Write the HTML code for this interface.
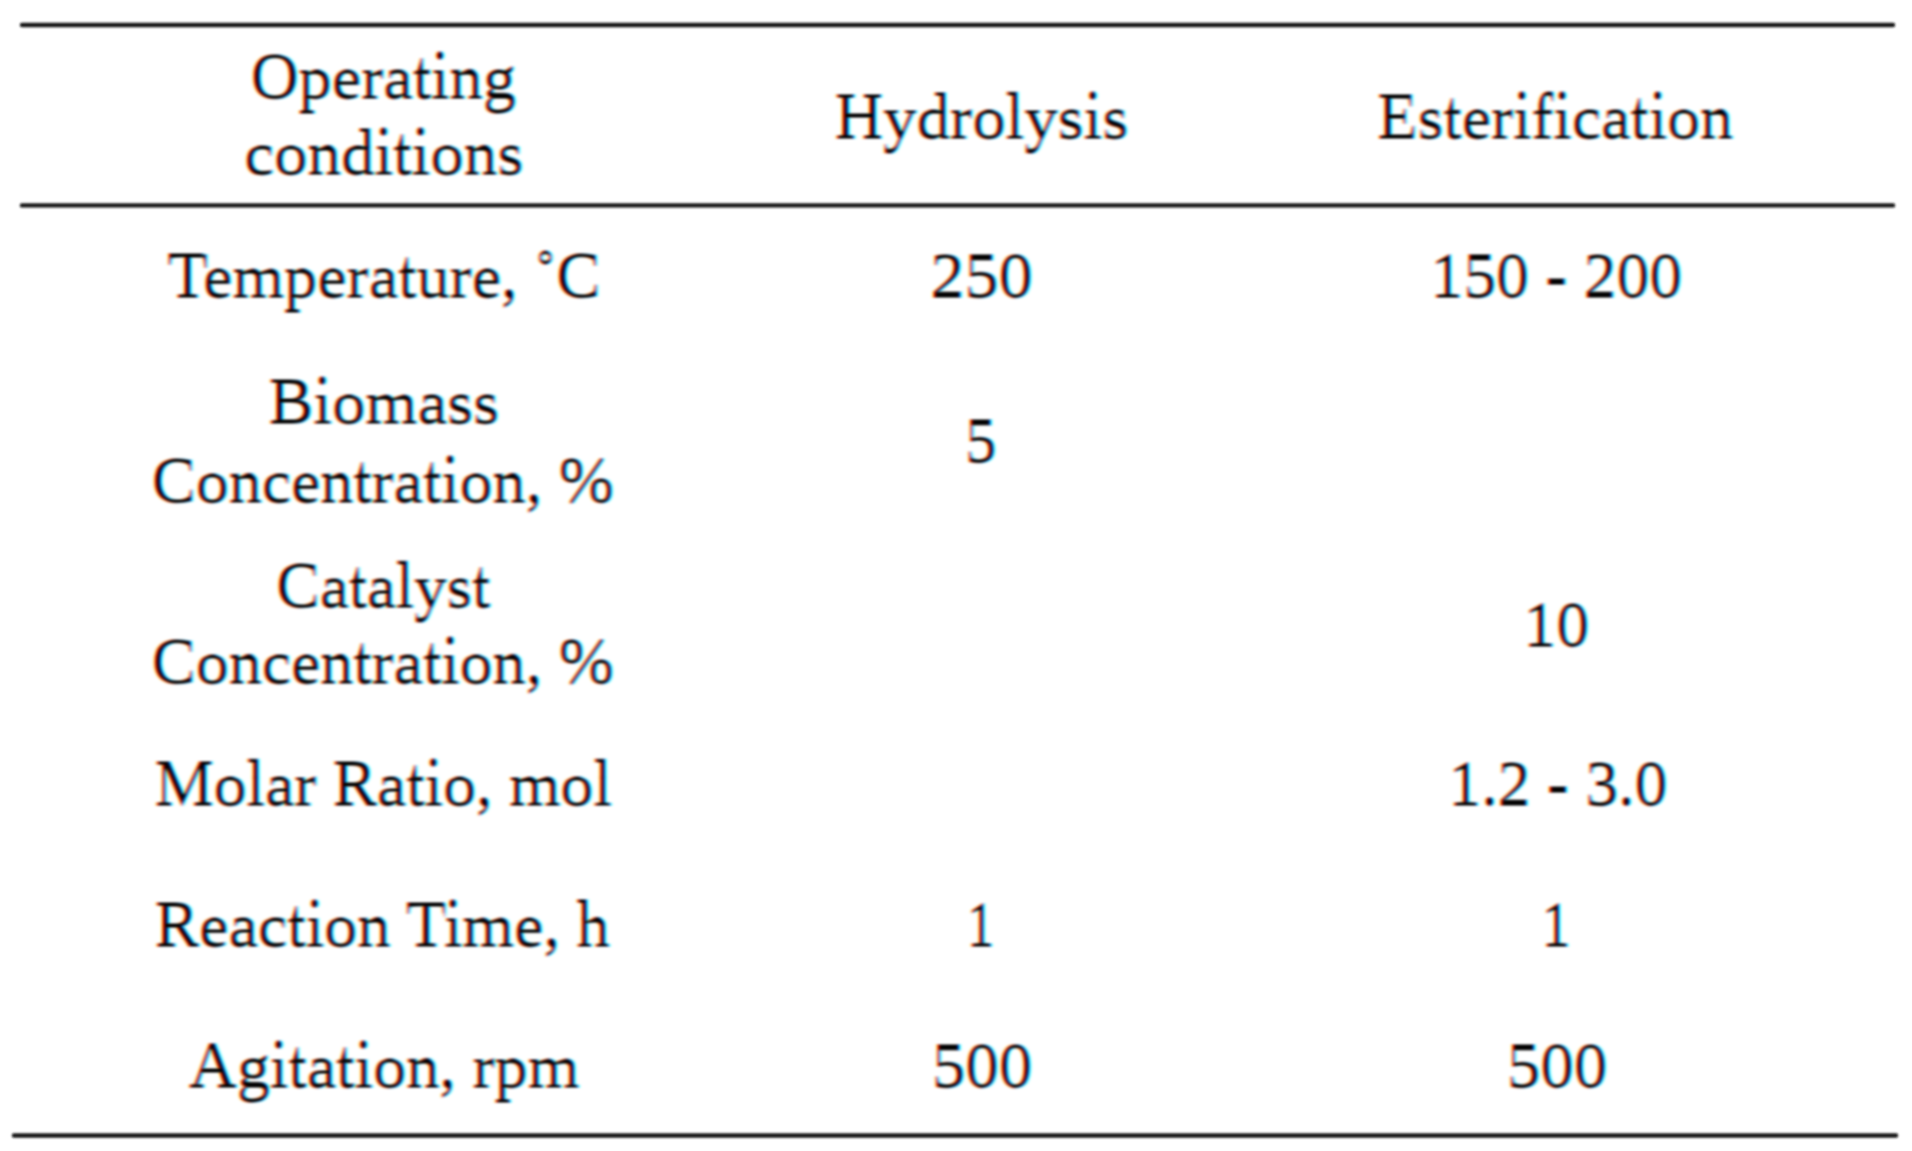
<!DOCTYPE html>
<html lang="en"><head><meta charset="utf-8"><title>Operating conditions: Hydrolysis and Esterification</title>
<style>
html,body{margin:0;padding:0;background:#fff;width:1912px;height:1151px;overflow:hidden}
svg{display:block}
text{font-family:"Liberation Serif","Times New Roman",serif;font-size:66px;fill:#000;white-space:pre}
</style></head><body>
<svg width="1912" height="1151" viewBox="0 0 1912 1151" role="img" aria-label="Table of operating conditions for hydrolysis and esterification">
<defs>
<filter id="ct" filterUnits="userSpaceOnUse" x="-20" y="-20" width="1952" height="1191" color-interpolation-filters="sRGB">
<feMorphology in="SourceGraphic" operator="erode" radius="1 0" result="er"/>
<feMorphology in="SourceGraphic" operator="dilate" radius="0 1" result="di"/>
<feComposite in="er" in2="di" operator="arithmetic" k1="0" k2="0.5" k3="0.5" k4="0" result="m1"/>
<feComposite in="m1" in2="SourceGraphic" operator="arithmetic" k1="0" k2="1" k3="0.000" k4="0" result="mx"/>
<feFlood flood-color="#ffffff" result="bg"/>
<feComposite in="mx" in2="bg" operator="over" result="src"/>
<feGaussianBlur in="src" stdDeviation="1.7 1.0" result="b"/>
<feOffset in="b" dx="1.5" dy="0" result="ro"/>
<feOffset in="b" dx="-1.5" dy="0" result="bo"/>
<feColorMatrix in="ro" type="matrix" values="1 0 0 0 0 0 0 0 0 0 0 0 0 0 0 0 0 0 0 1" result="R"/>
<feColorMatrix in="b" type="matrix" values="0 0 0 0 0 0 1 0 0 0 0 0 0 0 0 0 0 0 0 1" result="G"/>
<feColorMatrix in="bo" type="matrix" values="0 0 0 0 0 0 0 0 0 0 0 0 1 0 0 0 0 0 0 1" result="B"/>
<feComposite in="R" in2="G" operator="arithmetic" k1="0" k2="1" k3="1" k4="0" result="RG"/>
<feComposite in="RG" in2="B" operator="arithmetic" k1="0" k2="1" k3="1" k4="0"/>
</filter>
<filter id="lb" filterUnits="userSpaceOnUse" x="0" y="0" width="1912" height="1151"><feGaussianBlur stdDeviation="0.9"/></filter>
<clipPath id="k1" clipPathUnits="userSpaceOnUse"><rect x="-20.00" y="8.00" width="67.66" height="130.00"/></clipPath>
<clipPath id="k2" clipPathUnits="userSpaceOnUse"><rect x="47.66" y="97.50" width="236.25" height="40.50"/></clipPath>
<clipPath id="k3" clipPathUnits="userSpaceOnUse"><rect x="47.66" y="70.24" width="236.25" height="28.26"/></clipPath>
<clipPath id="k4" clipPathUnits="userSpaceOnUse"><rect x="47.66" y="8.00" width="113.56" height="63.24"/><rect x="179.56" y="8.00" width="3.72" height="63.24"/><rect x="193.28" y="8.00" width="90.63" height="63.24"/></clipPath>
<clipPath id="k5" clipPathUnits="userSpaceOnUse"><rect x="161.22" y="8.00" width="18.34" height="63.24"/></clipPath>
<clipPath id="k6" clipPathUnits="userSpaceOnUse"><rect x="183.28" y="8.00" width="9.99" height="56.00"/></clipPath>
<clipPath id="k7" clipPathUnits="userSpaceOnUse"><rect x="-20.00" y="173.50" width="315.00" height="40.50"/></clipPath>
<clipPath id="k8" clipPathUnits="userSpaceOnUse"><rect x="-20.00" y="146.24" width="315.00" height="28.26"/></clipPath>
<clipPath id="k9" clipPathUnits="userSpaceOnUse"><rect x="-20.00" y="84.00" width="152.00" height="63.24"/><rect x="142.00" y="84.00" width="4.63" height="63.24"/><rect x="164.95" y="84.00" width="3.72" height="63.24"/><rect x="178.67" y="84.00" width="116.33" height="63.24"/></clipPath>
<clipPath id="k10" clipPathUnits="userSpaceOnUse"><rect x="146.62" y="84.00" width="18.33" height="63.24"/></clipPath>
<clipPath id="k11" clipPathUnits="userSpaceOnUse"><rect x="132.00" y="84.00" width="9.99" height="56.00"/><rect x="168.67" y="84.00" width="9.99" height="56.00"/></clipPath>
<clipPath id="k12" clipPathUnits="userSpaceOnUse"><rect x="-20.00" y="48.00" width="67.66" height="130.00"/></clipPath>
<clipPath id="k13" clipPathUnits="userSpaceOnUse"><rect x="47.66" y="137.50" width="262.03" height="40.50"/></clipPath>
<clipPath id="k14" clipPathUnits="userSpaceOnUse"><rect x="47.66" y="110.24" width="262.03" height="28.26"/></clipPath>
<clipPath id="k15" clipPathUnits="userSpaceOnUse"><rect x="47.66" y="48.00" width="201.72" height="63.24"/><rect x="259.37" y="48.00" width="50.32" height="63.24"/></clipPath>
<clipPath id="k16" clipPathUnits="userSpaceOnUse"><rect x="249.38" y="48.00" width="9.99" height="56.00"/></clipPath>
<clipPath id="k17" clipPathUnits="userSpaceOnUse"><rect x="-20.00" y="48.00" width="60.31" height="130.00"/></clipPath>
<clipPath id="k18" clipPathUnits="userSpaceOnUse"><rect x="40.31" y="137.50" width="335.22" height="40.50"/></clipPath>
<clipPath id="k19" clipPathUnits="userSpaceOnUse"><rect x="40.31" y="110.24" width="335.22" height="28.26"/></clipPath>
<clipPath id="k20" clipPathUnits="userSpaceOnUse"><rect x="40.31" y="48.00" width="25.69" height="63.24"/><rect x="84.33" y="48.00" width="55.00" height="63.24"/><rect x="149.32" y="48.00" width="30.32" height="63.24"/><rect x="189.64" y="48.00" width="63.21" height="63.24"/><rect x="271.17" y="48.00" width="3.72" height="63.24"/><rect x="284.89" y="48.00" width="90.65" height="63.24"/></clipPath>
<clipPath id="k21" clipPathUnits="userSpaceOnUse"><rect x="66.00" y="48.00" width="18.33" height="63.24"/><rect x="252.84" y="48.00" width="18.33" height="63.24"/></clipPath>
<clipPath id="k22" clipPathUnits="userSpaceOnUse"><rect x="139.33" y="48.00" width="9.99" height="56.00"/><rect x="179.64" y="48.00" width="9.99" height="56.00"/><rect x="274.89" y="48.00" width="9.99" height="56.00"/></clipPath>
<clipPath id="k23" clipPathUnits="userSpaceOnUse"><rect x="-20.00" y="207.00" width="55.70" height="130.00"/><rect x="332.50" y="207.00" width="33.00" height="130.00"/><rect x="387.48" y="207.00" width="64.03" height="130.00"/></clipPath>
<clipPath id="k24" clipPathUnits="userSpaceOnUse"><rect x="349.00" y="207.00" width="38.48" height="130.00"/></clipPath>
<clipPath id="k25" clipPathUnits="userSpaceOnUse"><rect x="35.70" y="296.50" width="296.80" height="40.50"/></clipPath>
<clipPath id="k26" clipPathUnits="userSpaceOnUse"><rect x="35.70" y="269.24" width="296.80" height="28.26"/></clipPath>
<clipPath id="k27" clipPathUnits="userSpaceOnUse"><rect x="35.70" y="207.00" width="194.19" height="63.24"/><rect x="248.23" y="207.00" width="84.27" height="63.24"/></clipPath>
<clipPath id="k28" clipPathUnits="userSpaceOnUse"><rect x="229.89" y="207.00" width="18.34" height="63.24"/></clipPath>
<clipPath id="k29" clipPathUnits="userSpaceOnUse"><rect x="-20.00" y="207.00" width="139.00" height="130.00"/></clipPath>
<clipPath id="k30" clipPathUnits="userSpaceOnUse"><rect x="99.00" y="207.00" width="54.97" height="130.00"/></clipPath>
<clipPath id="k31" clipPathUnits="userSpaceOnUse"><rect x="-20.00" y="207.00" width="135.50" height="130.00"/><rect x="137.47" y="207.00" width="135.52" height="130.00"/></clipPath>
<clipPath id="k32" clipPathUnits="userSpaceOnUse"><rect x="-20.00" y="333.00" width="64.02" height="130.00"/></clipPath>
<clipPath id="k33" clipPathUnits="userSpaceOnUse"><rect x="44.02" y="422.50" width="203.34" height="40.50"/></clipPath>
<clipPath id="k34" clipPathUnits="userSpaceOnUse"><rect x="44.02" y="395.24" width="203.34" height="28.26"/></clipPath>
<clipPath id="k35" clipPathUnits="userSpaceOnUse"><rect x="44.02" y="333.00" width="3.72" height="63.24"/><rect x="57.73" y="333.00" width="189.63" height="63.24"/></clipPath>
<clipPath id="k36" clipPathUnits="userSpaceOnUse"><rect x="47.74" y="333.00" width="9.99" height="56.00"/></clipPath>
<clipPath id="k37" clipPathUnits="userSpaceOnUse"><rect x="-20.00" y="412.00" width="64.02" height="130.00"/><rect x="373.89" y="412.00" width="107.98" height="130.00"/></clipPath>
<clipPath id="k38" clipPathUnits="userSpaceOnUse"><rect x="44.02" y="501.50" width="329.88" height="40.50"/></clipPath>
<clipPath id="k39" clipPathUnits="userSpaceOnUse"><rect x="44.02" y="474.24" width="329.88" height="28.26"/></clipPath>
<clipPath id="k40" clipPathUnits="userSpaceOnUse"><rect x="44.02" y="412.00" width="157.59" height="63.24"/><rect x="219.94" y="412.00" width="51.28" height="63.24"/><rect x="289.55" y="412.00" width="3.72" height="63.24"/><rect x="303.26" y="412.00" width="70.63" height="63.24"/></clipPath>
<clipPath id="k41" clipPathUnits="userSpaceOnUse"><rect x="201.61" y="412.00" width="18.33" height="63.24"/><rect x="271.22" y="412.00" width="18.33" height="63.24"/></clipPath>
<clipPath id="k42" clipPathUnits="userSpaceOnUse"><rect x="293.27" y="412.00" width="9.99" height="56.00"/></clipPath>
<clipPath id="k43" clipPathUnits="userSpaceOnUse"><rect x="-20.00" y="372.00" width="73.00" height="130.00"/></clipPath>
<clipPath id="k44" clipPathUnits="userSpaceOnUse"><rect x="-20.00" y="517.00" width="64.02" height="130.00"/></clipPath>
<clipPath id="k45" clipPathUnits="userSpaceOnUse"><rect x="44.02" y="606.50" width="192.30" height="40.50"/></clipPath>
<clipPath id="k46" clipPathUnits="userSpaceOnUse"><rect x="44.02" y="579.24" width="192.30" height="28.26"/></clipPath>
<clipPath id="k47" clipPathUnits="userSpaceOnUse"><rect x="44.02" y="517.00" width="29.30" height="63.24"/><rect x="91.64" y="517.00" width="106.31" height="63.24"/></clipPath>
<clipPath id="k48" clipPathUnits="userSpaceOnUse"><rect x="73.31" y="517.00" width="18.33" height="63.24"/><rect x="197.95" y="517.00" width="38.36" height="63.24"/></clipPath>
<clipPath id="k49" clipPathUnits="userSpaceOnUse"><rect x="-20.00" y="593.00" width="64.02" height="130.00"/><rect x="373.89" y="593.00" width="107.98" height="130.00"/></clipPath>
<clipPath id="k50" clipPathUnits="userSpaceOnUse"><rect x="44.02" y="682.50" width="329.88" height="40.50"/></clipPath>
<clipPath id="k51" clipPathUnits="userSpaceOnUse"><rect x="44.02" y="655.24" width="329.88" height="28.26"/></clipPath>
<clipPath id="k52" clipPathUnits="userSpaceOnUse"><rect x="44.02" y="593.00" width="157.59" height="63.24"/><rect x="219.94" y="593.00" width="51.28" height="63.24"/><rect x="289.55" y="593.00" width="3.72" height="63.24"/><rect x="303.26" y="593.00" width="70.63" height="63.24"/></clipPath>
<clipPath id="k53" clipPathUnits="userSpaceOnUse"><rect x="201.61" y="593.00" width="18.33" height="63.24"/><rect x="271.22" y="593.00" width="18.33" height="63.24"/></clipPath>
<clipPath id="k54" clipPathUnits="userSpaceOnUse"><rect x="293.27" y="593.00" width="9.99" height="56.00"/></clipPath>
<clipPath id="k55" clipPathUnits="userSpaceOnUse"><rect x="-20.00" y="556.00" width="106.00" height="130.00"/></clipPath>
<clipPath id="k56" clipPathUnits="userSpaceOnUse"><rect x="-20.00" y="715.00" width="78.67" height="130.00"/><rect x="161.28" y="715.00" width="60.53" height="130.00"/><rect x="320.78" y="715.00" width="33.00" height="130.00"/></clipPath>
<clipPath id="k57" clipPathUnits="userSpaceOnUse"><rect x="58.67" y="804.50" width="119.11" height="40.50"/><rect x="221.81" y="804.50" width="98.97" height="40.50"/><rect x="337.28" y="804.50" width="139.19" height="40.50"/></clipPath>
<clipPath id="k58" clipPathUnits="userSpaceOnUse"><rect x="58.67" y="777.24" width="119.11" height="28.26"/><rect x="221.81" y="777.24" width="98.97" height="28.26"/><rect x="337.28" y="777.24" width="139.19" height="28.26"/></clipPath>
<clipPath id="k59" clipPathUnits="userSpaceOnUse"><rect x="58.67" y="715.00" width="119.11" height="63.24"/><rect x="221.81" y="715.00" width="29.30" height="63.24"/><rect x="269.44" y="715.00" width="3.72" height="63.24"/><rect x="283.15" y="715.00" width="37.63" height="63.24"/><rect x="337.28" y="715.00" width="139.19" height="63.24"/></clipPath>
<clipPath id="k60" clipPathUnits="userSpaceOnUse"><rect x="251.11" y="715.00" width="18.33" height="63.24"/></clipPath>
<clipPath id="k61" clipPathUnits="userSpaceOnUse"><rect x="273.16" y="715.00" width="9.99" height="56.00"/></clipPath>
<clipPath id="k62" clipPathUnits="userSpaceOnUse"><rect x="33.00" y="715.00" width="16.50" height="130.00"/><rect x="82.50" y="715.00" width="54.97" height="130.00"/><rect x="170.47" y="715.00" width="16.50" height="130.00"/></clipPath>
<clipPath id="k63" clipPathUnits="userSpaceOnUse"><rect x="-20.00" y="715.00" width="53.00" height="130.00"/><rect x="49.50" y="715.00" width="49.50" height="130.00"/><rect x="120.97" y="715.00" width="49.50" height="130.00"/><rect x="186.97" y="715.00" width="53.02" height="130.00"/></clipPath>
<clipPath id="k64" clipPathUnits="userSpaceOnUse"><rect x="-20.00" y="856.00" width="64.02" height="130.00"/><rect x="234.56" y="856.00" width="53.31" height="130.00"/><rect x="386.84" y="856.00" width="33.00" height="130.00"/></clipPath>
<clipPath id="k65" clipPathUnits="userSpaceOnUse"><rect x="44.02" y="945.50" width="205.86" height="40.50"/><rect x="287.88" y="945.50" width="98.97" height="40.50"/><rect x="403.34" y="945.50" width="69.52" height="40.50"/></clipPath>
<clipPath id="k66" clipPathUnits="userSpaceOnUse"><rect x="44.02" y="918.24" width="205.86" height="28.26"/><rect x="287.88" y="918.24" width="98.97" height="28.26"/><rect x="403.34" y="918.24" width="69.52" height="28.26"/></clipPath>
<clipPath id="k67" clipPathUnits="userSpaceOnUse"><rect x="44.02" y="856.00" width="87.88" height="63.24"/><rect x="150.23" y="856.00" width="3.72" height="63.24"/><rect x="163.95" y="856.00" width="85.93" height="63.24"/><rect x="287.88" y="856.00" width="3.72" height="63.24"/><rect x="301.59" y="856.00" width="85.25" height="63.24"/><rect x="403.34" y="856.00" width="69.52" height="63.24"/></clipPath>
<clipPath id="k68" clipPathUnits="userSpaceOnUse"><rect x="131.89" y="856.00" width="18.34" height="63.24"/></clipPath>
<clipPath id="k69" clipPathUnits="userSpaceOnUse"><rect x="153.96" y="856.00" width="9.99" height="56.00"/><rect x="291.60" y="856.00" width="9.99" height="56.00"/></clipPath>
<clipPath id="k70" clipPathUnits="userSpaceOnUse"><rect x="-20.00" y="856.00" width="73.00" height="130.00"/></clipPath>
<clipPath id="k71" clipPathUnits="userSpaceOnUse"><rect x="-20.00" y="856.00" width="73.00" height="130.00"/></clipPath>
<clipPath id="k72" clipPathUnits="userSpaceOnUse"><rect x="-20.00" y="997.00" width="67.66" height="130.00"/><rect x="249.30" y="997.00" width="33.00" height="130.00"/></clipPath>
<clipPath id="k73" clipPathUnits="userSpaceOnUse"><rect x="47.66" y="1086.50" width="201.64" height="40.50"/><rect x="265.80" y="1086.50" width="142.83" height="40.50"/></clipPath>
<clipPath id="k74" clipPathUnits="userSpaceOnUse"><rect x="47.66" y="1059.24" width="201.64" height="28.26"/><rect x="265.80" y="1059.24" width="142.83" height="28.26"/></clipPath>
<clipPath id="k75" clipPathUnits="userSpaceOnUse"><rect x="47.66" y="997.00" width="36.72" height="63.24"/><rect x="94.37" y="997.00" width="4.63" height="63.24"/><rect x="117.33" y="997.00" width="29.30" height="63.24"/><rect x="164.95" y="997.00" width="3.72" height="63.24"/><rect x="178.67" y="997.00" width="70.63" height="63.24"/><rect x="265.80" y="997.00" width="142.83" height="63.24"/></clipPath>
<clipPath id="k76" clipPathUnits="userSpaceOnUse"><rect x="99.00" y="997.00" width="18.33" height="63.24"/><rect x="146.62" y="997.00" width="18.33" height="63.24"/></clipPath>
<clipPath id="k77" clipPathUnits="userSpaceOnUse"><rect x="84.38" y="997.00" width="9.99" height="56.00"/><rect x="168.67" y="997.00" width="9.99" height="56.00"/></clipPath>
<clipPath id="k78" clipPathUnits="userSpaceOnUse"><rect x="-20.00" y="997.00" width="139.00" height="130.00"/></clipPath>
<clipPath id="k79" clipPathUnits="userSpaceOnUse"><rect x="-20.00" y="997.00" width="139.00" height="130.00"/></clipPath>
</defs>
<rect width="1912" height="1151" fill="#fff"/>
<g filter="url(#ct)">
<g transform="translate(250.49 0) scale(1.0046 1)"><g clip-path="url(#k1)"><text x="0" y="98.00">Operating</text></g><g clip-path="url(#k2)"><g transform="matrix(1 0 0 1.0800 0 -7.840)"><text x="0" y="98.00">Operating</text></g></g><g clip-path="url(#k3)"><g transform="matrix(1 0 0 0.9000 0 9.800)"><text x="0" y="98.00">Operating</text></g></g><g clip-path="url(#k4)"><g transform="matrix(1 0 0 1.1954 0 -10.202)"><text x="0" y="98.00">Operating</text></g></g><g clip-path="url(#k5)"><g transform="matrix(1 0 0 1.6700 0 -42.334)"><text x="0" y="98.00">Operating</text></g></g><g clip-path="url(#k6)"><g transform="matrix(1 0 0 1 0 -2.800)"><text x="0" y="98.00">Operating</text></g></g></g>
<g transform="translate(243.96 0) scale(1.0148 1)"><g clip-path="url(#k7)"><g transform="matrix(1 0 0 1.0800 0 -13.920)"><text x="0" y="174.00">conditions</text></g></g><g clip-path="url(#k8)"><g transform="matrix(1 0 0 0.9000 0 17.400)"><text x="0" y="174.00">conditions</text></g></g><g clip-path="url(#k9)"><g transform="matrix(1 0 0 1.1954 0 -25.055)"><text x="0" y="174.00">conditions</text></g></g><g clip-path="url(#k10)"><g transform="matrix(1 0 0 1.6700 0 -93.254)"><text x="0" y="174.00">conditions</text></g></g><g clip-path="url(#k11)"><g transform="matrix(1 0 0 1 0 -2.800)"><text x="0" y="174.00">conditions</text></g></g></g>
<g transform="translate(834.47 0) scale(1.0133 1)"><g clip-path="url(#k12)"><text x="0" y="138.00">Hydrolysis</text></g><g clip-path="url(#k13)"><g transform="matrix(1 0 0 1.0800 0 -11.040)"><text x="0" y="138.00">Hydrolysis</text></g></g><g clip-path="url(#k14)"><g transform="matrix(1 0 0 0.9000 0 13.800)"><text x="0" y="138.00">Hydrolysis</text></g></g><g clip-path="url(#k15)"><g transform="matrix(1 0 0 1.1954 0 -18.019)"><text x="0" y="138.00">Hydrolysis</text></g></g><g clip-path="url(#k16)"><g transform="matrix(1 0 0 1 0 -2.800)"><text x="0" y="138.00">Hydrolysis</text></g></g></g>
<g transform="translate(1376.99 0) scale(1.0012 1)"><g clip-path="url(#k17)"><text x="0" y="138.00">Esterification</text></g><g clip-path="url(#k18)"><g transform="matrix(1 0 0 1.0800 0 -11.040)"><text x="0" y="138.00">Esterification</text></g></g><g clip-path="url(#k19)"><g transform="matrix(1 0 0 0.9000 0 13.800)"><text x="0" y="138.00">Esterification</text></g></g><g clip-path="url(#k20)"><g transform="matrix(1 0 0 1.1954 0 -18.019)"><text x="0" y="138.00">Esterification</text></g></g><g clip-path="url(#k21)"><g transform="matrix(1 0 0 1.6700 0 -69.134)"><text x="0" y="138.00">Esterification</text></g></g><g clip-path="url(#k22)"><g transform="matrix(1 0 0 1 0 -2.800)"><text x="0" y="138.00">Esterification</text></g></g></g>
<g transform="translate(166.99 0) scale(1.0042 1)"><g clip-path="url(#k23)"><text x="0" y="297.00">Temperature, ˚C</text></g><g clip-path="url(#k24)"><g transform="matrix(1 0 0 1 0 2.00)"><text x="0" y="297.00">Temperature, ˚C</text></g></g><g clip-path="url(#k25)"><g transform="matrix(1 0 0 1.0800 0 -23.760)"><text x="0" y="297.00">Temperature, ˚C</text></g></g><g clip-path="url(#k26)"><g transform="matrix(1 0 0 0.9000 0 29.700)"><text x="0" y="297.00">Temperature, ˚C</text></g></g><g clip-path="url(#k27)"><g transform="matrix(1 0 0 1.1954 0 -49.092)"><text x="0" y="297.00">Temperature, ˚C</text></g></g><g clip-path="url(#k28)"><g transform="matrix(1 0 0 1.6700 0 -175.664)"><text x="0" y="297.00">Temperature, ˚C</text></g></g></g>
<g transform="translate(929.91 0) scale(1.0362 1)"><g clip-path="url(#k29)"><g transform="matrix(1 0 0 0.9550 0 13.365)"><text x="0" y="297.00">250</text></g></g></g>
<g transform="translate(1430.02 0) scale(0.9959 1)"><g clip-path="url(#k30)"><text x="0" y="297.00">150 - 200</text></g><g clip-path="url(#k31)"><g transform="matrix(1 0 0 0.9550 0 13.365)"><text x="0" y="297.00">150 - 200</text></g></g></g>
<g transform="translate(268.47 0) scale(1.0135 1)"><g clip-path="url(#k32)"><text x="0" y="423.00">Biomass</text></g><g clip-path="url(#k33)"><g transform="matrix(1 0 0 1.0800 0 -33.840)"><text x="0" y="423.00">Biomass</text></g></g><g clip-path="url(#k34)"><g transform="matrix(1 0 0 0.9000 0 42.300)"><text x="0" y="423.00">Biomass</text></g></g><g clip-path="url(#k35)"><g transform="matrix(1 0 0 1.1954 0 -73.716)"><text x="0" y="423.00">Biomass</text></g></g><g clip-path="url(#k36)"><g transform="matrix(1 0 0 1 0 -2.800)"><text x="0" y="423.00">Biomass</text></g></g></g>
<g transform="translate(151.50 0) scale(1.0000 1)"><g clip-path="url(#k37)"><text x="0" y="502.00">Concentration, %</text></g><g clip-path="url(#k38)"><g transform="matrix(1 0 0 1.0800 0 -40.160)"><text x="0" y="502.00">Concentration, %</text></g></g><g clip-path="url(#k39)"><g transform="matrix(1 0 0 0.9000 0 50.200)"><text x="0" y="502.00">Concentration, %</text></g></g><g clip-path="url(#k40)"><g transform="matrix(1 0 0 1.1954 0 -89.155)"><text x="0" y="502.00">Concentration, %</text></g></g><g clip-path="url(#k41)"><g transform="matrix(1 0 0 1.6700 0 -313.014)"><text x="0" y="502.00">Concentration, %</text></g></g><g clip-path="url(#k42)"><g transform="matrix(1 0 0 1 0 -2.800)"><text x="0" y="502.00">Concentration, %</text></g></g></g>
<g transform="translate(964.66 0) scale(0.9487 1)"><g clip-path="url(#k43)"><g transform="matrix(1 0 0 0.9550 0 20.790)"><text x="0" y="462.00">5</text></g></g></g>
<g transform="translate(276.03 0) scale(0.9887 1)"><g clip-path="url(#k44)"><text x="0" y="607.00">Catalyst</text></g><g clip-path="url(#k45)"><g transform="matrix(1 0 0 1.0800 0 -48.560)"><text x="0" y="607.00">Catalyst</text></g></g><g clip-path="url(#k46)"><g transform="matrix(1 0 0 0.9000 0 60.700)"><text x="0" y="607.00">Catalyst</text></g></g><g clip-path="url(#k47)"><g transform="matrix(1 0 0 1.1954 0 -109.674)"><text x="0" y="607.00">Catalyst</text></g></g><g clip-path="url(#k48)"><g transform="matrix(1 0 0 1.6700 0 -383.364)"><text x="0" y="607.00">Catalyst</text></g></g></g>
<g transform="translate(151.50 0) scale(1.0000 1)"><g clip-path="url(#k49)"><text x="0" y="683.00">Concentration, %</text></g><g clip-path="url(#k50)"><g transform="matrix(1 0 0 1.0800 0 -54.640)"><text x="0" y="683.00">Concentration, %</text></g></g><g clip-path="url(#k51)"><g transform="matrix(1 0 0 0.9000 0 68.300)"><text x="0" y="683.00">Concentration, %</text></g></g><g clip-path="url(#k52)"><g transform="matrix(1 0 0 1.1954 0 -124.527)"><text x="0" y="683.00">Concentration, %</text></g></g><g clip-path="url(#k53)"><g transform="matrix(1 0 0 1.6700 0 -434.284)"><text x="0" y="683.00">Concentration, %</text></g></g><g clip-path="url(#k54)"><g transform="matrix(1 0 0 1 0 -2.800)"><text x="0" y="683.00">Concentration, %</text></g></g></g>
<g transform="translate(1523.02 0) scale(0.9969 1)"><g clip-path="url(#k55)"><g transform="matrix(1 0 0 0.9550 0 29.070)"><text x="0" y="646.00">10</text></g></g></g>
<g transform="translate(154.50 0) scale(1.0013 1)"><g clip-path="url(#k56)"><text x="0" y="805.00">Molar Ratio, mol</text></g><g clip-path="url(#k57)"><g transform="matrix(1 0 0 1.0800 0 -64.400)"><text x="0" y="805.00">Molar Ratio, mol</text></g></g><g clip-path="url(#k58)"><g transform="matrix(1 0 0 0.9000 0 80.500)"><text x="0" y="805.00">Molar Ratio, mol</text></g></g><g clip-path="url(#k59)"><g transform="matrix(1 0 0 1.1954 0 -148.369)"><text x="0" y="805.00">Molar Ratio, mol</text></g></g><g clip-path="url(#k60)"><g transform="matrix(1 0 0 1.6700 0 -516.024)"><text x="0" y="805.00">Molar Ratio, mol</text></g></g><g clip-path="url(#k61)"><g transform="matrix(1 0 0 1 0 -2.800)"><text x="0" y="805.00">Molar Ratio, mol</text></g></g></g>
<g transform="translate(1448.02 0) scale(0.9962 1)"><g clip-path="url(#k62)"><text x="0" y="805.00">1.2 - 3.0</text></g><g clip-path="url(#k63)"><g transform="matrix(1 0 0 0.9550 0 36.225)"><text x="0" y="805.00">1.2 - 3.0</text></g></g></g>
<g transform="translate(154.49 0) scale(1.0049 1)"><g clip-path="url(#k64)"><text x="0" y="946.00">Reaction Time, h</text></g><g clip-path="url(#k65)"><g transform="matrix(1 0 0 1.0800 0 -75.680)"><text x="0" y="946.00">Reaction Time, h</text></g></g><g clip-path="url(#k66)"><g transform="matrix(1 0 0 0.9000 0 94.600)"><text x="0" y="946.00">Reaction Time, h</text></g></g><g clip-path="url(#k67)"><g transform="matrix(1 0 0 1.1954 0 -175.924)"><text x="0" y="946.00">Reaction Time, h</text></g></g><g clip-path="url(#k68)"><g transform="matrix(1 0 0 1.6700 0 -610.494)"><text x="0" y="946.00">Reaction Time, h</text></g></g><g clip-path="url(#k69)"><g transform="matrix(1 0 0 1 0 -2.800)"><text x="0" y="946.00">Reaction Time, h</text></g></g></g>
<g transform="translate(966.39 0) scale(0.8374 1)"><g clip-path="url(#k70)"><g transform="matrix(1 0 0 0.9550 0 42.570)"><text x="0" y="946.00">1</text></g></g></g>
<g transform="translate(1541.09 0) scale(0.8893 1)"><g clip-path="url(#k71)"><g transform="matrix(1 0 0 0.9550 0 42.570)"><text x="0" y="946.00">1</text></g></g></g>
<g transform="translate(188.50 0) scale(1.0052 1)"><g clip-path="url(#k72)"><text x="0" y="1087.00">Agitation, rpm</text></g><g clip-path="url(#k73)"><g transform="matrix(1 0 0 1.0800 0 -86.960)"><text x="0" y="1087.00">Agitation, rpm</text></g></g><g clip-path="url(#k74)"><g transform="matrix(1 0 0 0.9000 0 108.700)"><text x="0" y="1087.00">Agitation, rpm</text></g></g><g clip-path="url(#k75)"><g transform="matrix(1 0 0 1.1954 0 -203.479)"><text x="0" y="1087.00">Agitation, rpm</text></g></g><g clip-path="url(#k76)"><g transform="matrix(1 0 0 1.6700 0 -704.964)"><text x="0" y="1087.00">Agitation, rpm</text></g></g><g clip-path="url(#k77)"><g transform="matrix(1 0 0 1 0 -2.800)"><text x="0" y="1087.00">Agitation, rpm</text></g></g></g>
<g transform="translate(931.44 0) scale(1.0151 1)"><g clip-path="url(#k78)"><g transform="matrix(1 0 0 0.9550 0 48.915)"><text x="0" y="1087.00">500</text></g></g></g>
<g transform="translate(1506.44 0) scale(1.0151 1)"><g clip-path="url(#k79)"><g transform="matrix(1 0 0 0.9550 0 48.915)"><text x="0" y="1087.00">500</text></g></g></g>
</g>
<g stroke="#181818" stroke-width="4.4" stroke-linecap="round" filter="url(#lb)">
<line x1="22" y1="25" x2="1893" y2="25"/>
<line x1="22" y1="205.4" x2="1893" y2="205.4"/>
<line x1="14" y1="1135.5" x2="1896" y2="1135.5"/>
</g>
</svg>
</body></html>
